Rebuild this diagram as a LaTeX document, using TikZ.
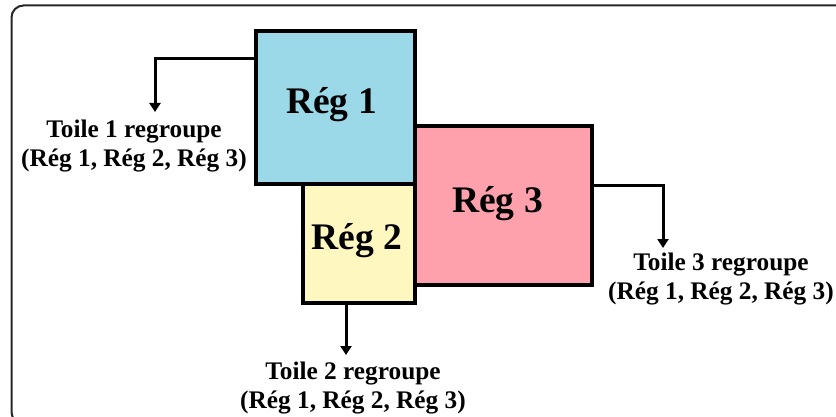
\documentclass[tikz,border=0pt]{standalone}
\usepackage{fontspec}
\setmainfont{Liberation Serif}
\usetikzlibrary{arrows.meta}
\definecolor{regblue}{RGB}{155,217,232}
\definecolor{regpink}{RGB}{255,161,172}
\definecolor{regyellow}{RGB}{255,247,192}
\begin{document}
\begin{tikzpicture}[x=1pt,y=-1pt,
  region/.style={draw=black,line width=4pt,inner sep=0pt},
  regtext/.style={inner sep=0pt,font=\fontsize{37.5}{41}\selectfont\bfseries},
  link/.style={line width=3pt,-{Triangle[width=11pt,length=9pt]}},
  caption/.style={align=center,inner sep=0pt,anchor=north,
    font=\fontsize{25.3}{28.8}\selectfont\bfseries}]
\useasboundingbox (0,0) rectangle (836,417);
% outer frame
\draw[line width=2pt,rounded corners=12pt,black!85] (11.5,5.5) rectangle (850,424);

% the three regions
\node[region,fill=regpink,minimum width=177pt,minimum height=159pt] (r3) at (503.5,205.5) {};
\node[region,fill=regblue,minimum width=159pt,minimum height=153pt] (r1) at (335.5,107.5) {};
\node[region,fill=regyellow,minimum width=112pt,minimum height=119pt] (r2) at (359,243.5) {};

\node[regtext] (t1) at ([shift={(-4pt,3pt)}]r1.center) {Rég 1};
\node[regtext] (t2) at ([shift={(-2pt,3pt)}]r2.center) {Rég 2};
\node[regtext] (t3) at ([shift={(-6pt,2pt)}]r3.center) {Rég 3};

% bend and end points of the connectors
\coordinate (b1) at (155,59);
\coordinate (e1) at (155,112);
\coordinate (b3) at (663,186);
\coordinate (e3) at (663,248);
\coordinate (e2) at (346,355);

\draw[link] (r1.west |- b1) -- (b1) -- (e1);
\draw[link] (r3.east |- b3) -- (b3) -- (e3);
\draw[link] (r2.south -| e2) -- (e2);

% captions
\node[caption] (c1) at (134,120) {Toile 1 regroupe\\(Rég 1, Rég 2, Rég 3)};
\node[caption] (c3) at (721,253) {Toile 3 regroupe\\(Rég 1, Rég 2, Rég 3)};
\node[caption] (c2) at (353,362) {Toile 2 regroupe\\(Rég 1, Rég 2, Rég 3)};
\end{tikzpicture}
\end{document}
